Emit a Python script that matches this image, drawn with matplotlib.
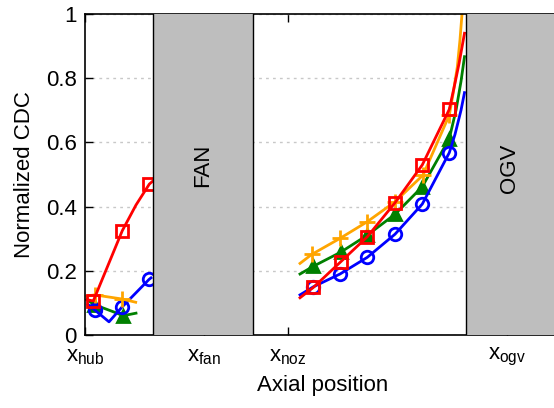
import matplotlib

matplotlib.use("Agg")
import matplotlib.pyplot as plt

plt.rcParams["font.family"] = ["Liberation Sans", "DejaVu Sans"]
plt.rcParams["mathtext.fontset"] = "custom"
plt.rcParams["mathtext.rm"] = "Liberation Sans"
plt.rcParams["mathtext.it"] = "Liberation Sans"

# axial stations (arbitrary axial units) and their labels
TICK_POS = [0, 119, 203, 422]
TICK_LABELS = [r"$\mathrm{x}_\mathrm{hub}$", r"$\mathrm{x}_\mathrm{fan}$",
               r"$\mathrm{x}_\mathrm{noz}$", r"$\mathrm{x}_\mathrm{ogv}$"]
FAN_SPAN = (68, 168)
OGV_SPAN = (380.7, 480)

# --- hub region (upstream of fan) ---
hub_blue_x = [3, 9.7, 24, 36.7, 64, 66]
hub_blue_y = [0.095, 0.078, 0.041, 0.086, 0.173, 0.178]
hub_green_x = [2, 9, 32, 38, 51]
hub_green_y = [0.11, 0.095, 0.068, 0.060, 0.068]
hub_orange_x = [1.7, 9.7, 37.3, 50.7]
hub_orange_y = [0.121, 0.125, 0.112, 0.102]
hub_red_x = [2, 8.3, 37.3, 51, 64.3, 68]
hub_red_y = [0.11, 0.106, 0.325, 0.405, 0.47, 0.48]

# --- nozzle to OGV region ---
noz_blue_x = [215, 228.3, 255, 282.3, 310, 337.3, 364.3, 370, 376, 379.5]
noz_blue_y = [0.125, 0.150, 0.190, 0.242, 0.314, 0.408, 0.568, 0.625, 0.70, 0.755]
noz_green_x = [215, 228.3, 255.7, 282.3, 310, 337.3, 364.3, 371, 376, 379.5]
noz_green_y = [0.190, 0.214, 0.258, 0.311, 0.376, 0.462, 0.612, 0.70, 0.79, 0.867]
noz_orange_x = [215, 226.7, 255, 282.3, 310, 338, 364.3, 368, 372.3, 375, 377, 378]
noz_orange_y = [0.223, 0.251, 0.301, 0.353, 0.415, 0.498, 0.685, 0.75, 0.835, 0.92, 1.0, 1.05]
noz_red_x = [215, 228.3, 255.7, 282.3, 310, 337.3, 364.3, 369, 374, 379.5]
noz_red_y = [0.116, 0.148, 0.228, 0.306, 0.412, 0.530, 0.703, 0.77, 0.845, 0.94]

HUB_MARKS = {"blue": [1, 3, 4], "green": [1, 3], "orange": [1, 2], "red": [1, 2, 4]}
NOZ_MARKS = [1, 2, 3, 4, 5, 6]

STYLE = {
    "blue": dict(color="#0000ff", marker="o", mfc="none", ms=9),
    "green": dict(color="#008000", marker="^", ms=9),
    "orange": dict(color="#ffa500", marker="+", ms=11),
    "red": dict(color="#ff0000", marker="s", mfc="none", ms=9),
}

fig = plt.figure(figsize=(5.54, 4.08), dpi=100)
ax = fig.add_axes([85 / 554, 73 / 408, 475 / 554, 321 / 408])

hub = {"blue": (hub_blue_x, hub_blue_y), "green": (hub_green_x, hub_green_y),
       "orange": (hub_orange_x, hub_orange_y), "red": (hub_red_x, hub_red_y)}
noz = {"blue": (noz_blue_x, noz_blue_y), "green": (noz_green_x, noz_green_y),
       "orange": (noz_orange_x, noz_orange_y), "red": (noz_red_x, noz_red_y)}

for name in ["green", "blue", "orange", "red"]:
    st = STYLE[name]
    x, y = hub[name]
    ax.plot(x, y, lw=2, mew=2, markevery=HUB_MARKS[name], **st)
    x, y = noz[name]
    ax.plot(x, y, lw=2, mew=2, markevery=NOZ_MARKS, **st)

for lo, hi in (FAN_SPAN, OGV_SPAN):
    ax.axvspan(lo, hi, color="#bebebe", zorder=3, lw=0)
    ax.axvline(lo, color="black", lw=1, zorder=3.1)
    ax.axvline(hi, color="black", lw=1, zorder=3.1)

ax.text(sum(FAN_SPAN) / 2, 0.53, "FAN", rotation=90, ha="center", va="center",
        fontsize=16, zorder=4)
ax.text(425, 0.52, "OGV", rotation=90, ha="center", va="center",
        fontsize=16, zorder=4)

ax.set_xlim(0, 475)
ax.set_ylim(0, 1)
ax.set_yticks([0, 0.2, 0.4, 0.6, 0.8, 1])
ax.set_yticklabels(["0", "0.2", "0.4", "0.6", "0.8", "1"])
ax.set_xticks(TICK_POS)
ax.set_xticklabels(TICK_LABELS)
ax.set_axisbelow(True)
ax.grid(axis="y", color="#c8c8c8", lw=1, ls=(0, (2, 3)))
ax.tick_params(direction="in", length=6, width=1, labelsize=16, top=True)
ax.tick_params(axis="x", pad=8)
ax.tick_params(axis="y", pad=6)
for s in ax.spines.values():
    s.set_linewidth(1.2)

ax.set_xlabel("Axial position", fontsize=16, labelpad=5)
ax.set_ylabel("Normalized CDC", fontsize=16, labelpad=8)

fig.savefig("out.png", dpi=100)
